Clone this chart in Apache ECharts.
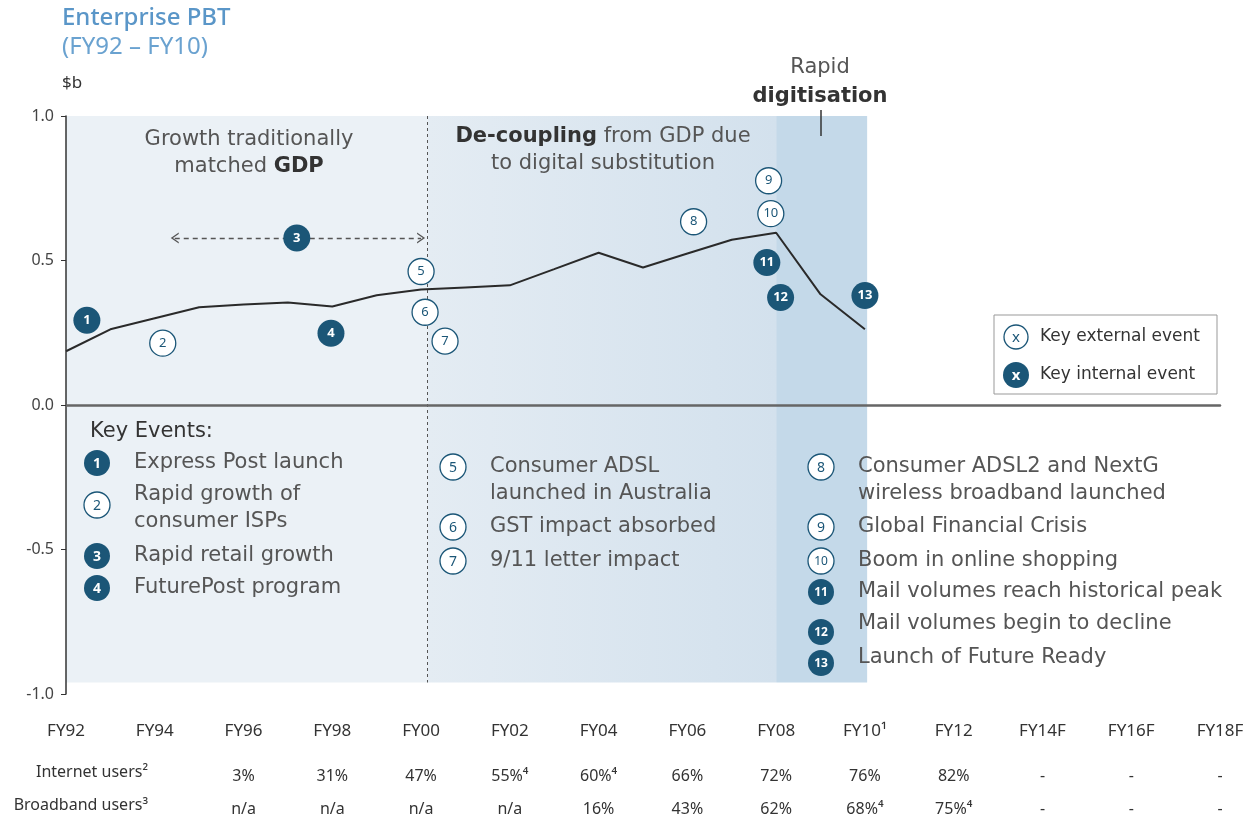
<!DOCTYPE html>
<html>
<head>
<meta charset="utf-8">
<script src="https://cdn.jsdelivr.net/npm/echarts@6/dist/echarts.min.js"></script>
<style>
  html, body { margin: 0; padding: 0; background: #fff; }
  #main { width: 1255px; height: 822px; }
</style>
</head>
<body>
<div id="main"></div>
<script>
// PBT line, $b by financial year
var years = [1992, 1993, 1994, 1995, 1996, 1997, 1998, 1999, 2000, 2001,
             2002, 2003, 2004, 2005, 2006, 2007, 2008, 2009, 2010];
var pbt = [0.186, 0.262, 0.30, 0.338, 0.348, 0.355, 0.341, 0.38, 0.40, 0.407,
           0.414, 0.47, 0.527, 0.476, 0.524, 0.572, 0.596, 0.383, 0.262];

// table under the chart
var tickYears = [1992, 1994, 1996, 1998, 2000, 2002, 2004, 2006, 2008, 2010, 2012, 2014, 2016, 2018];
var tickNames = ['FY92', 'FY94', 'FY96', 'FY98', 'FY00', 'FY02', 'FY04', 'FY06', 'FY08', 'FY10¹', 'FY12', 'FY14F', 'FY16F', 'FY18F'];
var internetUsers = ['', '', '3%', '31%', '47%', '55%⁴', '60%⁴', '66%', '72%', '76%', '82%', '-', '-', '-'];
var broadbandUsers = ['', '', 'n/a', 'n/a', 'n/a', 'n/a', '16%', '43%', '62%', '68%⁴', '75%⁴', '-', '-', '-'];

// event markers on the chart
var eventIds = ['1', '2', '3', '4', '5', '6', '7', '8', '9', '10', '11', '12', '13'];
var eventX = [1992.47, 1994.18, 1997.2, 1997.97, 2000.0, 2000.09, 2000.54, 2006.14, 2007.83, 2007.88, 2007.79, 2008.1, 2010.0];
var eventY = [0.293, 0.214, 0.578, 0.248, 0.462, 0.321, 0.221, 0.634, 0.776, 0.662, 0.493, 0.372, 0.379];
var eventInternal = [true, false, true, true, false, false, false, false, false, false, true, true, true];

// key events list
var keyEvents = [
  ['1', 'Express Post launch'],
  ['2', 'Rapid growth of\nconsumer ISPs'],
  ['3', 'Rapid retail growth'],
  ['4', 'FuturePost program'],
  ['5', 'Consumer ADSL\nlaunched in Australia'],
  ['6', 'GST impact absorbed'],
  ['7', '9/11 letter impact'],
  ['8', 'Consumer ADSL2 and NextG\nwireless broadband launched'],
  ['9', 'Global Financial Crisis'],
  ['10', 'Boom in online shopping'],
  ['11', 'Mail volumes reach historical peak'],
  ['12', 'Mail volumes begin to decline'],
  ['13', 'Launch of Future Ready']
];

var dark = '#1b5677';
var textCol = '#555';
var font = 'Noto Sans';
var wide = 'DejaVu Sans';

var lineData = years.map(function (y, i) { return [y, pbt[i]]; });
var extData = [], intData = [];
for (var i = 0; i < eventIds.length; i++) {
  var item = { name: eventIds[i], value: [eventX[i], eventY[i]] };
  if (eventInternal[i]) intData.push(item); else extData.push(item);
}

function tableAxis(labels, margin, size) {
  return {
    type: 'value', position: 'bottom', min: 1992, max: 2018, interval: 2,
    axisLine: { show: false }, axisTick: { show: false }, splitLine: { show: false },
    axisLabel: {
      margin: margin, verticalAlign: 'middle', showMinLabel: true, showMaxLabel: true,
      fontFamily: font, fontSize: size, color: '#333',
      formatter: function (v) { var k = tickYears.indexOf(v); return k < 0 ? '' : labels[k]; }
    }
  };
}

// layout of the key events list: [x of circle, y of circle, y of first text line]
var listPos = [
  [97, 463, 463], [97, 505, 495], [97, 556, 556], [97, 588, 588],
  [453, 467, 467], [453, 527, 527], [453, 561, 561],
  [821, 467, 467], [821, 527, 527], [821, 561, 561], [821, 592, 592], [821, 632, 624], [821, 663, 658]
];

var bold = { fontFamily: wide, fontSize: 21, fontWeight: 'bold', fill: '#333' };
var graphics = [
  { type: 'text', left: 62, top: 6, style: { text: 'Enterprise PBT', fill: '#5a96c8', font: '500 24px ' + font } },
  { type: 'text', left: 62, top: 35, style: { text: '(FY92 – FY10)', fill: '#6aa2d0', font: '24px ' + font } },
  { type: 'text', left: 62, top: 75, style: { text: '$b', fill: '#333', font: '17px ' + font } },
  { type: 'text', x: 249, y: 126, style: {
      text: 'Growth traditionally\nmatched {b|GDP}', fill: textCol, font: '21px ' + wide, align: 'center', lineHeight: 27,
      rich: { b: bold } } },
  { type: 'text', x: 603, y: 123, style: {
      text: '{b|De-coupling} from GDP due\nto digital substitution', fill: textCol, font: '21px ' + wide, align: 'center', lineHeight: 27,
      rich: { b: bold } } },
  { type: 'text', x: 820, y: 53, style: {
      text: 'Rapid\n{b|digitisation}', fill: textCol, font: '21px ' + wide, align: 'center', lineHeight: 29,
      rich: { b: bold } } },
  { type: 'line', shape: { x1: 821, y1: 110, x2: 821, y2: 136 }, style: { stroke: '#333', lineWidth: 1.5 } },
  { type: 'text', left: 90, top: 421, style: { text: 'Key Events:', fill: '#333', font: '21px ' + wide } },
  { type: 'text', x: 148, y: 772, style: { text: 'Internet users²', fill: '#333', font: '16px ' + font, align: 'right', verticalAlign: 'middle' } },
  { type: 'text', x: 148, y: 805, style: { text: 'Broadband users³', fill: '#333', font: '16px ' + font, align: 'right', verticalAlign: 'middle' } },
  // legend box
  { type: 'rect', shape: { x: 994, y: 315, width: 223, height: 79 }, style: { fill: '#fff', stroke: '#999', lineWidth: 1 } },
  { type: 'circle', shape: { cx: 1016, cy: 337, r: 12 }, style: { fill: '#fff', stroke: dark, lineWidth: 1.3 } },
  { type: 'text', x: 1016, y: 338, style: { text: 'x', fill: dark, font: '15px ' + font, align: 'center', verticalAlign: 'middle' } },
  { type: 'text', x: 1040, y: 337, style: { text: 'Key external event', fill: '#333', font: '17px ' + wide, verticalAlign: 'middle' } },
  { type: 'circle', shape: { cx: 1016, cy: 375, r: 13 }, style: { fill: dark } },
  { type: 'text', x: 1016, y: 376, style: { text: 'x', fill: '#fff', font: 'bold 15px ' + font, align: 'center', verticalAlign: 'middle' } },
  { type: 'text', x: 1040, y: 375, style: { text: 'Key internal event', fill: '#333', font: '17px ' + wide, verticalAlign: 'middle' } }
];

keyEvents.forEach(function (ev, k) {
  var p = listPos[k];
  var internal = eventInternal[eventIds.indexOf(ev[0])];
  graphics.push({ type: 'circle', shape: { cx: p[0], cy: p[1], r: 13 },
    style: internal ? { fill: dark } : { fill: '#fff', stroke: dark, lineWidth: 1.3 } });
  graphics.push({ type: 'text', x: p[0], y: p[1] + 1, style: { text: ev[0], fill: internal ? '#fff' : dark,
    font: (internal ? 'bold ' : '') + (ev[0].length > 1 ? '12px ' : '14px ') + font, align: 'center', verticalAlign: 'middle' } });
  graphics.push({ type: 'text', x: p[0] + 37, y: p[2] - 13.5, style: { text: ev[1], fill: textCol, font: '21px ' + wide, lineHeight: 27 } });
});
graphics.forEach(function (g) { g.z = 100; });

var chart = echarts.init(document.getElementById('main'));
chart.setOption({
  animation: false,
  grid: { left: 66, right: 35, top: 116, bottom: 128 },
  xAxis: [
    {
      type: 'value', min: 1992, max: 2018, interval: 2, z: 20,
      axisLine: { onZero: true, lineStyle: { color: '#666', width: 2.5 } },
      axisTick: { show: false }, axisLabel: { show: false }, splitLine: { show: false }
    },
    tableAxis(tickNames, 37, 17),
    tableAxis(internetUsers, 82, 16),
    tableAxis(broadbandUsers, 115, 16)
  ],
  yAxis: {
    type: 'value', min: -1, max: 1, interval: 0.5, z: 20,
    axisLine: { show: true, lineStyle: { color: '#333', width: 1.5 } },
    axisTick: { show: true, length: 5, lineStyle: { color: '#333' } },
    splitLine: { show: false },
    axisLabel: { fontFamily: font, fontSize: 16, color: '#444', margin: 12,
      formatter: function (v) { return v.toFixed(1); } }
  },
  series: [
    {
      type: 'line', data: lineData, symbol: 'none', z: 3,
      lineStyle: { color: '#2a2a2a', width: 2 },
      markArea: {
        silent: true,
        data: [
          [{ coord: [1992, 1], itemStyle: { color: '#ebf1f6' } }, { coord: [2000.15, -0.96] }],
          [{ coord: [2000.15, 1], itemStyle: { color: new echarts.graphic.LinearGradient(0, 0, 1, 0, [
              { offset: 0, color: '#e4ecf3' }, { offset: 1, color: '#d3e1ed' }]) } }, { coord: [2008, -0.96] }],
          [{ coord: [2008, 1], itemStyle: { color: '#c4d9e9' } }, { coord: [2010.05, -0.96] }]
        ]
      },
      markLine: {
        silent: true, symbol: 'none', label: { show: false },
        data: [
          [{ coord: [2000.15, 1], lineStyle: { color: '#555', type: [3, 3], width: 1 } }, { coord: [2000.15, -0.96] }],
          [{ coord: [1994.45, 0.578], symbol: 'path://M0,10 L5,0 L10,10 L8.6,10 L5,2.8 L1.4,10 Z', symbolSize: [11, 8],
             lineStyle: { color: '#555', type: [5, 4], width: 1.3 } },
           { coord: [2000.0, 0.578], symbol: 'path://M0,10 L5,0 L10,10 L8.6,10 L5,2.8 L1.4,10 Z', symbolSize: [11, 8] }]
        ]
      }
    },
    {
      type: 'scatter', data: extData, symbolSize: 26, z: 5,
      itemStyle: { color: '#fff', borderColor: dark, borderWidth: 1.3, opacity: 1 },
      label: { show: true, position: 'inside', formatter: '{b}', color: dark, fontFamily: font, fontSize: 13 }
    },
    {
      type: 'scatter', data: intData, symbolSize: 27, z: 5,
      itemStyle: { color: dark, opacity: 1 },
      label: { show: true, position: 'inside', formatter: '{b}', color: '#fff', fontFamily: font, fontWeight: 'bold', fontSize: 13 }
    }
  ],
  graphic: graphics
});
</script>
</body>
</html>
